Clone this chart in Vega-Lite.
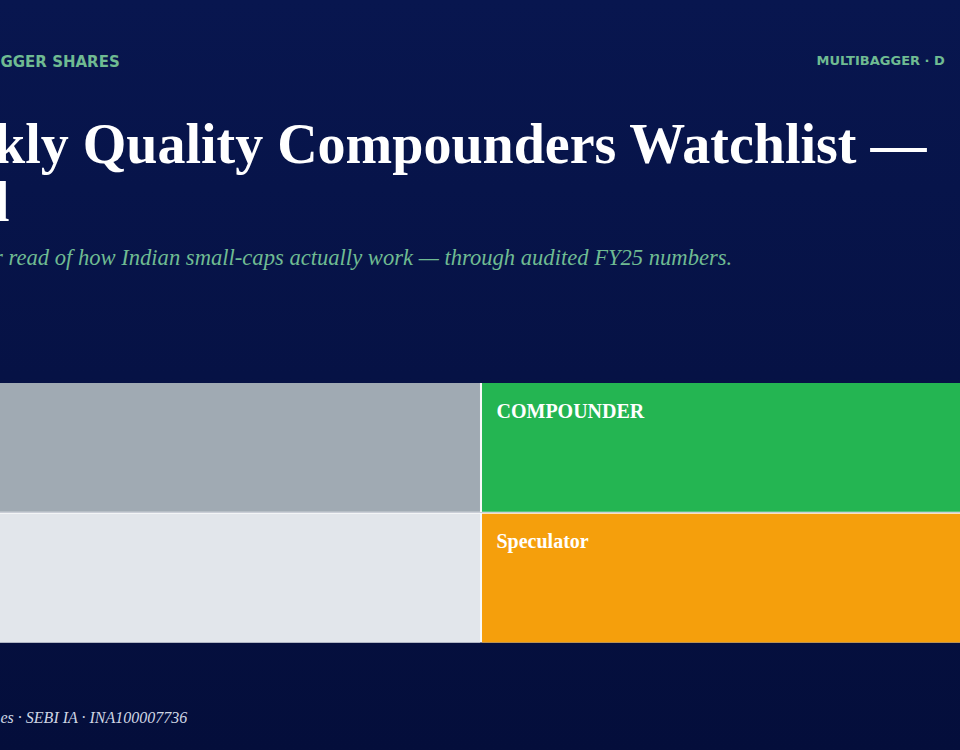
{
  "$schema": "https://vega.github.io/schema/vega-lite/v6.json",
  "width": 960,
  "height": 750,
  "padding": 0,
  "autosize": "none",
  "background": "#040d3a",
  "view": {
    "stroke": null,
    "fill": {
      "gradient": "linear",
      "x1": 0, "y1": 0, "x2": 0, "y2": 1,
      "stops": [
        {"offset": 0, "color": "#08164f"},
        {"offset": 1, "color": "#040e3b"}
      ]
    }
  },
  "title": {
    "text": ["kly Quality Compounders Watchlist —", "l"],
    "subtitle": "r read of how Indian small-caps actually work — through audited FY25 numbers.",
    "anchor": "start",
    "frame": "group",
    "align": "left",
    "baseline": "alphabetic",
    "offset": 0,
    "dx": -6,
    "dy": 315,
    "font": "Liberation Serif",
    "fontSize": 56,
    "fontWeight": "bold",
    "lineHeight": 58,
    "color": "#ffffff",
    "limit": 1200,
    "subtitleFont": "Liberation Serif",
    "subtitleFontSize": 22.6,
    "subtitleFontStyle": "italic",
    "subtitleColor": "#6fbb92",
    "subtitlePadding": -12
  },
  "data": {
    "values": [
      {"col": "left", "row": "top", "cell": "top left", "label": ""},
      {"col": "right", "row": "top", "cell": "top right", "label": "COMPOUNDER"},
      {"col": "left", "row": "bottom", "cell": "bottom left", "label": ""},
      {"col": "right", "row": "bottom", "cell": "bottom right", "label": "Speculator"}
    ]
  },
  "layer": [
    {
      "mark": {"type": "rect", "color": "#f8fafa"},
      "encoding": {
        "x": {
          "field": "col",
          "type": "nominal",
          "sort": ["left", "right"],
          "scale": {"range": [0, 962], "paddingInner": 0, "paddingOuter": 0},
          "axis": {
            "orient": "bottom",
            "title": "es · SEBI IA · INA100007736",
            "labels": false, "ticks": false, "domain": false, "grid": false,
            "titleX": 0, "titleY": -28,
            "titleAlign": "left", "titleAnchor": null, "titleBaseline": "alphabetic",
            "titleFont": "Liberation Serif", "titleFontSize": 16, "titleFontStyle": "italic",
            "titleFontWeight": "normal", "titleColor": "#cfd6e4"
          }
        },
        "y": {
          "field": "row",
          "type": "nominal",
          "sort": ["top", "bottom"],
          "scale": {"range": [383, 642.5], "paddingInner": 0, "paddingOuter": 0},
          "axis": {
            "orient": "left",
            "title": "GGER SHARES",
            "labels": false, "ticks": false, "domain": false, "grid": false,
            "titleX": 0, "titleY": 66, "titleAngle": 0,
            "titleAlign": "left", "titleAnchor": null, "titleBaseline": "alphabetic",
            "titleFont": "DejaVu Sans", "titleFontSize": 15, "titleFontWeight": "bold",
            "titleColor": "#6fbb92"
          }
        }
      }
    },
    {
      "mark": {"type": "rect"},
      "encoding": {
        "x": {
          "field": "col",
          "type": "nominal",
          "sort": ["left", "right"],
          "scale": {"range": [0, 962], "paddingInner": 0.0042, "paddingOuter": 0},
          "axis": null
        },
        "y": {
          "field": "row",
          "type": "nominal",
          "sort": ["top", "bottom"],
          "scale": {"range": [383, 642.5], "paddingInner": 0.0155, "paddingOuter": 0},
          "axis": null
        },
        "color": {
          "field": "cell",
          "type": "nominal",
          "legend": null,
          "scale": {
            "domain": ["top left", "top right", "bottom left", "bottom right"],
            "range": ["#a0aab3", "#24b552", "#e2e6eb", "#f59f0c"]
          }
        }
      }
    },
    {
      "mark": {
        "type": "text",
        "align": "left",
        "baseline": "alphabetic",
        "dx": -225,
        "dy": -30,
        "font": "Liberation Serif",
        "fontSize": 20,
        "fontWeight": "bold",
        "color": "#ffffff"
      },
      "encoding": {
        "x": {
          "field": "col",
          "type": "nominal",
          "sort": ["left", "right"],
          "scale": {"range": [0, 962], "paddingInner": 0, "paddingOuter": 0},
          "axis": null
        },
        "y": {
          "field": "row",
          "type": "nominal",
          "sort": ["top", "bottom"],
          "scale": {"range": [383, 642.5], "paddingInner": 0, "paddingOuter": 0},
          "axis": {
            "orient": "right",
            "title": "MULTIBAGGER · D",
            "labels": false, "ticks": false, "domain": false, "grid": false,
            "titleX": -144, "titleY": 64, "titleAngle": 0,
            "titleAlign": "left", "titleAnchor": null, "titleBaseline": "alphabetic",
            "titleFont": "DejaVu Sans", "titleFontSize": 13, "titleFontWeight": "bold",
            "titleColor": "#6fbb92"
          }
        },
        "text": {"field": "label", "type": "nominal"}
      }
    }
  ],
  "resolve": {
    "scale": {"x": "independent", "y": "independent"},
    "axis": {"x": "independent", "y": "independent"}
  }
}
